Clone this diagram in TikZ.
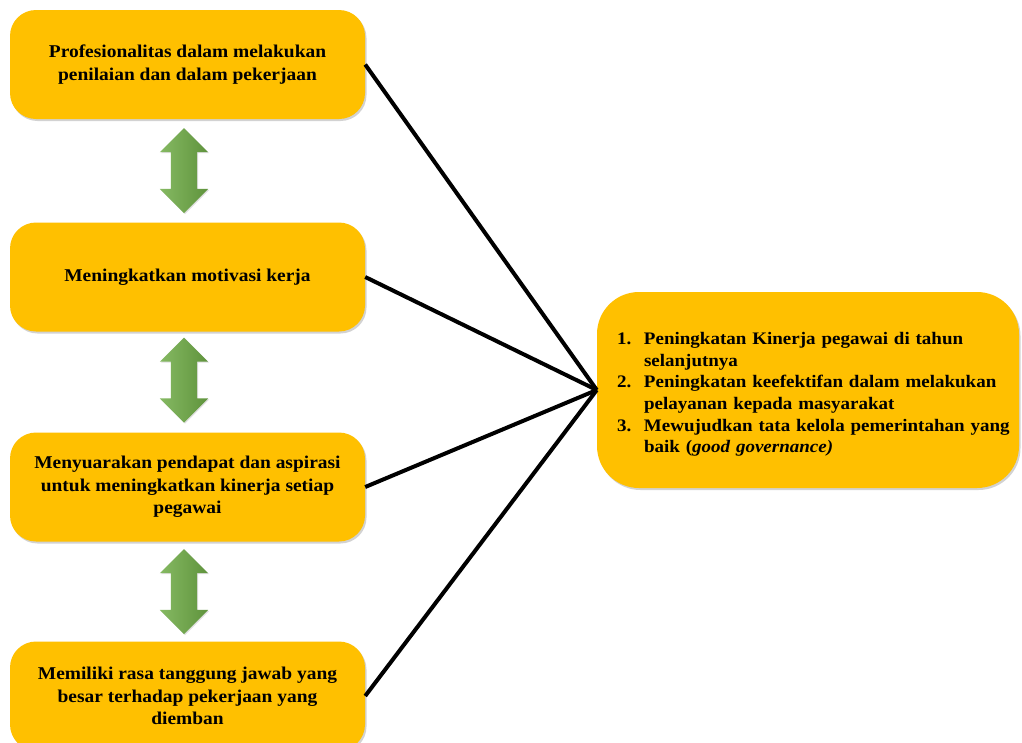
\documentclass[tikz,border=0pt]{standalone}
\usepackage{fontspec}
\setmainfont[FakeStretch=1.08]{Liberation Serif}
\usetikzlibrary{calc,positioning}
\usetikzlibrary{backgrounds}
\usetikzlibrary{shapes,shapes.arrows}
\usetikzlibrary{shadows}
\definecolor{emas}{HTML}{FFC000}
\definecolor{hijau}{HTML}{70AD47}
\tikzset{
  aspek node/.style={
    fill=emas, rounded corners=26pt, align=center,
    minimum width=355pt, minimum height=109pt,
    font=\fontsize{18}{22.5}\selectfont\bfseries,
    drop shadow={shadow xshift=1.5pt, shadow yshift=-2pt, opacity=0.35}
  },
  hasil node/.style={
    fill=emas, rounded corners=42pt, align=left,
    minimum width=422pt, minimum height=196pt, text width=422pt, inner xsep=0pt,
    font=\fontsize{17.6}{21.6}\selectfont\bfseries,
    drop shadow={shadow xshift=1.5pt, shadow yshift=-2pt, opacity=0.35}
  },
  panah node/.style={
    double arrow, rotate=90, top color=hijau!85!white, bottom color=hijau!85!black,
    shading angle=90, inner xsep=0pt, inner ysep=13pt,
    minimum height=85pt, minimum width=48pt,
    double arrow head extend=11pt,
    drop shadow={shadow xshift=1pt, shadow yshift=-1pt, opacity=0.25}
  },
  reset transform/.code={\pgftransformreset}
}
\newcommand{\butir}[2]{\leftskip=20pt\hangindent=27pt\hangafter=1\noindent\makebox[27pt][l]{#1}#2\par}

\begin{document}
\begin{tikzpicture}[x=1pt, y=-1pt, background rectangle/.style={fill=white}, show background rectangle]
    \useasboundingbox (0,0) rectangle (1022,742);
    \draw (187.5,64.5) node[aspek node] (prof) {Profesionalitas dalam melakukan\\penilaian dan dalam pekerjaan};
    \draw (187.5,277) node[aspek node] (motiv) {Meningkatkan motivasi kerja};
    \draw (187.5,487) node[aspek node] (aspir) {Menyuarakan pendapat dan aspirasi\\untuk meningkatkan kinerja setiap\\pegawai};
    \draw (187.5,696) node[aspek node] (tanggung) {Memiliki rasa tanggung jawab yang\\besar terhadap pekerjaan yang\\diemban};
    \draw (808,390) node[hasil node] (hasil) {%
      \butir{1.}{\rule{0pt}{21pt}Peningkatan Kinerja pegawai di tahun\newline selanjutnya}
      \butir{2.}{Peningkatan keefektifan dalam melakukan\newline pelayanan kepada masyarakat}
      \butir{3.}{Mewujudkan tata kelola pemerintahan yang\newline baik (\textit{good governance)}}};
    \draw (184,170.5) node[panah node] (panah1) {};
    \draw (184,380) node[panah node] (panah2) {};
    \draw (184,591.5) node[panah node] (panah3) {};
    \draw[line width=4pt] (prof.east) -- (hasil.west);
    \draw[line width=4pt] (motiv.east) -- (hasil.west);
    \draw[line width=4pt] (aspir.east) -- (hasil.west);
    \draw[line width=4pt] (tanggung.east) -- (hasil.west);
\end{tikzpicture}
\end{document}
